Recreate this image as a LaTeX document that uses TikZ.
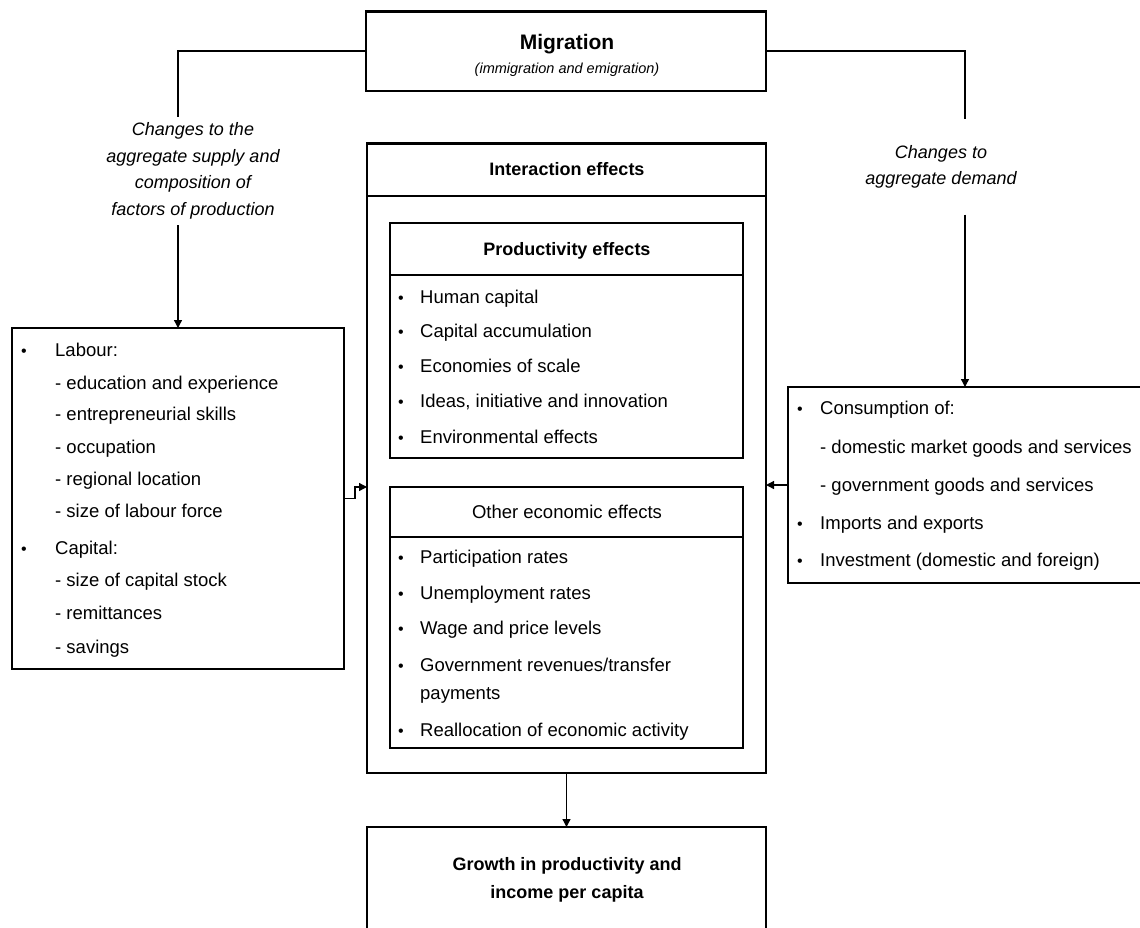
\documentclass[tikz,border=0pt]{standalone}
\usepackage{fontspec}
\setmainfont{Liberation Sans}
\usetikzlibrary{arrows.meta}
\newcommand\fsz[1]{\fontsize{#1}{#1}\selectfont}
\begin{document}
\begin{tikzpicture}[x=1pt,y=-1pt,
  box/.style={draw, line width=1.3pt, inner sep=0pt, outer sep=0pt, anchor=north west},
  tx/.style={inner sep=0pt, anchor=base west, font=\fsz{18.5}},
  bul/.style={inner sep=0pt, anchor=base west, font=\fsz{16}},
  hd/.style={inner sep=0pt, anchor=base, font=\bfseries\fsz{18}},
  lnk/.style={line width=1.3pt},
  arr/.style={line width=1.3pt, -{Triangle[length=8pt,width=8pt]}},
  heavy/.style={line width=3pt}]
\useasboundingbox (0,0) rectangle (1140,927);
% boxes
\node[box, minimum width=400pt, minimum height=80pt] (mig) at (366,11) {};
\node[box, minimum width=399pt, minimum height=630pt] (int) at (367,143) {};
\node[box, minimum width=353pt, minimum height=235pt] (prod) at (390,223) {};
\node[box, minimum width=353pt, minimum height=261pt] (oth) at (390,487) {};
\node[box, minimum width=332pt, minimum height=341pt] (lab) at (12,328) {};
\node[box, minimum width=354pt, minimum height=196pt] (rbox) at (788,387) {};
\node[box, minimum width=399pt, minimum height=120pt] (gro) at (367,827) {};
% heavy edges
\draw[heavy] (mig.north west) -- (mig.north east);
\draw[heavy] (int.north west) -- (int.north east);
\draw[line width=2.4pt] (rbox.south west) -- (rbox.south east);
\draw[line width=2.4pt] (oth.south west) -- (oth.south east);
% header separators
\draw[lnk] (367,196) -- (766,196);
\draw[lnk] (390,275) -- (743,275);
\draw[lnk] (390,537) -- (743,537);
% migration text
\node[inner sep=0pt, anchor=base, font=\bfseries\fsz{21}] (migt) at (567,49.5) {Migration};
\node[inner sep=0pt, anchor=base, font=\itshape\fsz{14.5}] (migs) at (567,73) {(immigration and emigration)};
% side labels
\node[inner xsep=0pt, inner ysep=6pt, align=center, font=\itshape\fontsize{18}{26.5}\selectfont] (lt) at (193,171)
  {Changes to the\\aggregate supply and\\composition of\\factors of production};
\node[inner xsep=0pt, inner ysep=26pt, align=center, font=\itshape\fontsize{18}{26}\selectfont] (rt) at (941,167)
  {Changes to\\aggregate demand};
% headers
\node[hd] (h1) at (567,175.5) {Interaction effects};
\node[hd] (h2) at (567,255.5) {Productivity effects};
\node[hd, font=\fsz{18.5}] (h3) at (567,518.5) {Other economic effects};
\node[hd, align=center, font=\bfseries\fontsize{18}{28}\selectfont] (h4) at (567,898.5) {Growth in productivity and\\income per capita};
% productivity items
\node[bul] (pb1) at (398,303) {•}; \node[tx] (p1) at (420,303) {Human capital};
\node[bul] (pb2) at (398,337) {•}; \node[tx] (p2) at (420,337) {Capital accumulation};
\node[bul] (pb3) at (398,372) {•}; \node[tx] (p3) at (420,372) {Economies of scale};
\node[bul] (pb4) at (398,407) {•}; \node[tx] (p4) at (420,407) {Ideas, initiative and innovation};
\node[bul] (pb5) at (398,443) {•}; \node[tx] (p5) at (420,443) {Environmental effects};
% other items
\node[bul] (ob1) at (398,563) {•}; \node[tx] (o1) at (420,563) {Participation rates};
\node[bul] (ob2) at (398,599) {•}; \node[tx] (o2) at (420,599) {Unemployment rates};
\node[bul] (ob3) at (398,634) {•}; \node[tx] (o3) at (420,634) {Wage and price levels};
\node[bul] (ob4) at (398,671) {•}; \node[tx] (o4) at (420,671) {Government revenues/transfer};
\node[tx] (o4b) at (420,699) {payments};
\node[bul] (ob5) at (398,736) {•}; \node[tx] (o5) at (420,736) {Reallocation of economic activity};
% left box items
\node[bul] (lb1) at (21,356) {•}; \node[tx] (l1) at (55,356) {Labour:};
\node[tx] (l2) at (55,389) {- education and experience};
\node[tx] (l3) at (55,420) {- entrepreneurial skills};
\node[tx] (l4) at (55,453) {- occupation};
\node[tx] (l5) at (55,485) {- regional location};
\node[tx] (l6) at (55,517) {- size of labour force};
\node[bul] (lb2) at (21,554) {•}; \node[tx] (l7) at (55,554) {Capital:};
\node[tx] (l8) at (55,586) {- size of capital stock};
\node[tx] (l9) at (55,619) {- remittances};
\node[tx] (l10) at (55,653) {- savings};
% right box items
\node[bul] (rb1) at (797,414) {•}; \node[tx] (r1) at (820,414) {Consumption of:};
\node[tx] (r2) at (820,453) {- domestic market goods and services};
\node[tx] (r3) at (820,491) {- government goods and services};
\node[bul] (rb2) at (797,529) {•}; \node[tx] (r4) at (820,529) {Imports and exports};
\node[bul] (rb3) at (797,566) {•}; \node[tx] (r5) at (820,566) {Investment (domestic and foreign)};
% connectors
\draw[lnk] (mig.west) -| (lab.north |- lt.north);
\draw[arr] (lab.north |- lt.south) -- (lab.north);
\draw[lnk] (mig.east) -| (rbox.north |- rt.north);
\draw[arr] (rbox.north |- rt.south) -- (rbox.north);
\draw[arr] (lab.east) -- ++(11,0) |- (int.west |- oth.north);
\draw[arr] (rbox.west) -- (rbox.west -| int.east);
\draw[arr] (int.south) -- (gro.north);
\end{tikzpicture}
\end{document}
